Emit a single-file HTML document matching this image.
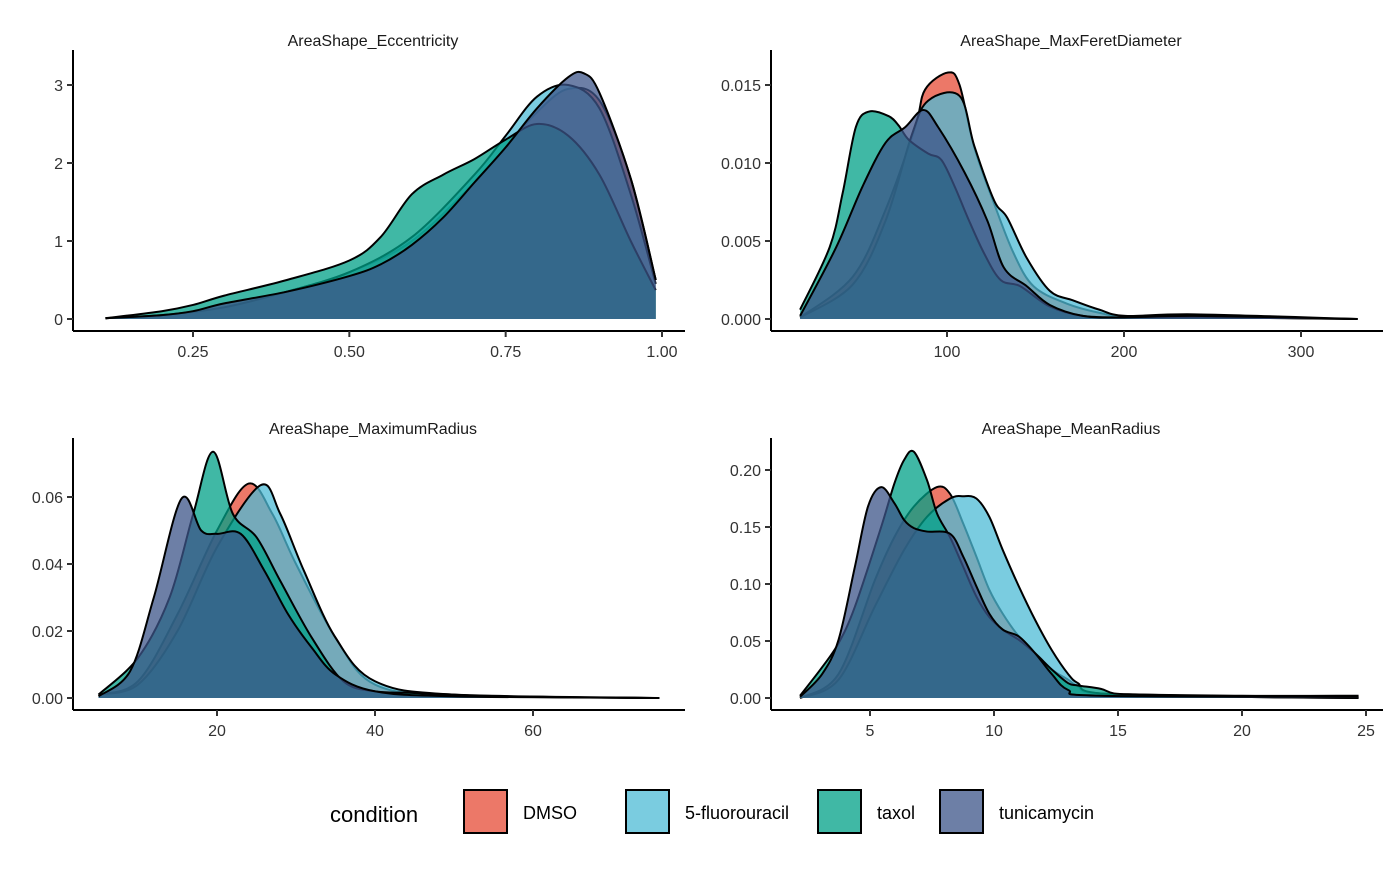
<!DOCTYPE html>
<html><head><meta charset="utf-8"><style>
body{margin:0;background:#fff;font-family:"Liberation Sans",Arial,sans-serif}
svg text{font-family:"Liberation Sans",Arial,sans-serif}
</style></head><body>
<svg id="c" width="1400" height="865" xmlns="http://www.w3.org/2000/svg"></svg>
<script>
const seriesNames=["DMSO","5-fluorouracil","taxol","tunicamycin"];
const colors=["#E64B35","#4DBBD5","#00A087","#3C5488"];
// Panel 1: AreaShape_Eccentricity
const eccX={DMSO:[0.11,0.2,0.3,0.4,0.5,0.6,0.7,0.75,0.8,0.85,0.9,0.95,0.99],"5-fluorouracil":[0.11,0.2,0.3,0.4,0.5,0.6,0.7,0.75,0.8,0.85,0.9,0.95,0.99],taxol:[0.11,0.2,0.25,0.3,0.4,0.5,0.55,0.6,0.65,0.7,0.75,0.8,0.85,0.9,0.95,0.99],tunicamycin:[0.11,0.2,0.25,0.3,0.4,0.5,0.55,0.6,0.65,0.7,0.75,0.8,0.85,0.875,0.9,0.95,0.99]};
const eccY={DMSO:[0.01,0.05,0.15,0.35,0.6,1.0,1.75,2.2,2.65,2.95,2.8,1.8,0.5],"5-fluorouracil":[0.01,0.05,0.15,0.35,0.6,1.05,1.85,2.35,2.85,3.0,2.7,1.6,0.45],taxol:[0.01,0.1,0.18,0.3,0.5,0.75,1.05,1.6,1.85,2.05,2.3,2.5,2.35,1.85,1.0,0.37],tunicamycin:[0.01,0.05,0.1,0.2,0.35,0.55,0.7,0.95,1.3,1.75,2.2,2.7,3.1,3.15,2.9,1.8,0.5]};
// Panel 2: AreaShape_MaxFeretDiameter
const ferX={DMSO:[17,46.7,65.3,82,87.6,100.6,107.1,115.4,126.6,137.7,148.9,167.4,186,204.6,260,332],"5-fluorouracil":[17,46.7,65.3,80.1,89.4,107.1,115.4,126.6,134,145.1,158.1,171.1,186,200.8,240,332],taxol:[17,33.7,41.1,48.5,56,67.1,72.7,78.3,89.4,96.8,104.3,111.7,121,130.3,141.4,158.1,176.7,200,250,332],tunicamycin:[17,37.4,52.3,65.3,76.4,86.6,95,109.9,122.8,132.1,145.1,158.1,176.7,200,240,332]};
const ferY={DMSO:[0.0001,0.0027,0.007,0.0123,0.0147,0.0158,0.015,0.011,0.0074,0.0042,0.0021,0.001,0.0004,0.0001,0.0001,0],"5-fluorouracil":[0.0001,0.0022,0.0063,0.0118,0.014,0.0143,0.0111,0.0076,0.0065,0.0039,0.0018,0.0012,0.0006,0.0002,0.0003,0],taxol:[0.0006,0.0046,0.0081,0.0123,0.0133,0.013,0.0124,0.0115,0.0106,0.0102,0.0085,0.0065,0.0042,0.0025,0.0021,0.0008,0.0002,0.0001,0.0001,0],tunicamycin:[0.0002,0.0046,0.0085,0.0113,0.0123,0.0134,0.0123,0.0094,0.0063,0.0033,0.0021,0.0009,0.0002,0.0001,0.0002,0]};
// Panel 3: AreaShape_MaximumRadius
const maxX={DMSO:[5,10,15,20,24,27,30,35,40,50,76],"5-fluorouracil":[5,10,15,20,25.5,28,31,35,40,50,76],taxol:[5,10,14,17,19.5,22,25,28,32,36,40,45,50,60,76],tunicamycin:[5,9,12,15.5,18,20,23,26,29,32,35,40,50,76]};
const maxY={DMSO:[0.001,0.005,0.025,0.05,0.064,0.055,0.04,0.018,0.004,0.001,0],"5-fluorouracil":[0.001,0.004,0.02,0.045,0.0635,0.055,0.038,0.018,0.005,0.001,0],taxol:[0.001,0.012,0.03,0.055,0.0735,0.055,0.048,0.035,0.018,0.005,0.002,0.0015,0.0008,0.0003,0],tunicamycin:[0.0005,0.008,0.03,0.0595,0.05,0.049,0.049,0.038,0.025,0.015,0.007,0.002,0.0005,0]};
// Panel 4: AreaShape_MeanRadius
const meanX={DMSO:[2.18,3.73,5.19,5.98,6.77,7.7,8.23,8.76,9.29,9.81,10.35,11,11.67,12.33,12.99,13.39,14.31,20,24.7],"5-fluorouracil":[2.18,3.73,5.19,6.38,7.3,8.23,8.76,9.29,9.81,10.35,11,11.67,12.33,12.99,13.39,14.31,20,24.7],taxol:[2.18,3.07,3.73,4.39,5.45,5.98,6.38,6.77,7.3,7.7,8.23,8.76,9.29,9.81,10.35,11,11.67,12.33,12.99,13.39,14.31,14.84,16,20,24.7],tunicamycin:[2.18,3.07,3.73,4.39,4.92,5.45,5.98,6.38,6.77,7.3,8.23,8.76,9.29,9.81,10.35,11,11.67,12.33,12.99,14.31,24.7]};
const meanY={DMSO:[0,0.021,0.103,0.141,0.168,0.185,0.179,0.153,0.124,0.095,0.074,0.054,0.039,0.025,0.016,0.01,0.004,0.002,0.002],"5-fluorouracil":[0,0.016,0.08,0.13,0.159,0.175,0.177,0.175,0.159,0.13,0.098,0.068,0.042,0.021,0.013,0.004,0.001,0],taxol:[0.002,0.027,0.048,0.08,0.15,0.188,0.209,0.216,0.191,0.162,0.141,0.115,0.089,0.071,0.06,0.051,0.039,0.025,0.013,0.011,0.008,0.004,0.003,0.001,0],tunicamycin:[0.001,0.021,0.051,0.115,0.168,0.185,0.171,0.156,0.149,0.146,0.144,0.124,0.098,0.074,0.06,0.054,0.039,0.021,0.007,0.002,0.001]};
const panels=[
 {title:"AreaShape_Eccentricity",xs:eccX,ys:eccY,ax:[0.25,193,1.0,662],ay:[0,319,3,85],ox:73,oy:331,w:612,top:50,xt:[0.25,0.5,0.75,1.0],xl:["0.25","0.50","0.75","1.00"],yt:[0,1,2,3],yl:["0","1","2","3"]},
 {title:"AreaShape_MaxFeretDiameter",xs:ferX,ys:ferY,ax:[100,947,300,1301],ay:[0,319,0.015,85],ox:771,oy:331,w:612,top:50,xt:[100,200,300],xl:["100","200","300"],yt:[0,0.005,0.01,0.015],yl:["0.000","0.005","0.010","0.015"]},
 {title:"AreaShape_MaximumRadius",xs:maxX,ys:maxY,ax:[20,217,60,533],ay:[0,698,0.06,497],ox:73,oy:710,w:612,top:438,xt:[20,40,60],xl:["20","40","60"],yt:[0,0.02,0.04,0.06],yl:["0.00","0.02","0.04","0.06"]},
 {title:"AreaShape_MeanRadius",xs:meanX,ys:meanY,ax:[5,870,25,1366],ay:[0,698,0.2,470],ox:771,oy:710,w:612,top:438,xt:[5,10,15,20,25],xl:["5","10","15","20","25"],yt:[0,0.05,0.1,0.15,0.2],yl:["0.00","0.05","0.10","0.15","0.20"]}
];
const svg=document.getElementById('c');const NS="http://www.w3.org/2000/svg";
function mk(t,a,p){const e=document.createElementNS(NS,t);for(const k in a)e.setAttribute(k,a[k]);(p||svg).appendChild(e);return e;}
function path(pts,base){let d="M"+pts[0][0]+","+pts[0][1];for(let i=0;i<pts.length-1;i++){const p0=pts[Math.max(0,i-1)],p1=pts[i],p2=pts[i+1],p3=pts[Math.min(pts.length-1,i+2)];
 const c1y=Math.min(base,p1[1]+(p2[1]-p0[1])/6),c2y=Math.min(base,p2[1]-(p3[1]-p1[1])/6);
 d+=" C"+(p1[0]+(p2[0]-p0[0])/6)+","+c1y+" "+(p2[0]-(p3[0]-p1[0])/6)+","+c2y+" "+p2[0]+","+p2[1];}return d;}
panels.forEach((P,pi)=>{
 const sx=v=>P.ax[1]+(v-P.ax[0])*(P.ax[3]-P.ax[1])/(P.ax[2]-P.ax[0]);
 const sy=v=>P.ay[1]+(v-P.ay[0])*(P.ay[3]-P.ay[1])/(P.ay[2]-P.ay[0]);
 const g=mk('g',{});
 const t=mk('text',{x:P.ox+P.w/2-6,y:P.top-4,'text-anchor':'middle','font-size':16,fill:'#1a1a1a'},g);t.textContent=P.title;
 
 const base=sy(0);
 seriesNames.forEach((s,si)=>{
  const pts=P.xs[s].map((x,i)=>[sx(x),sy(P.ys[s][i])]);
  const d=path(pts,base)+" L"+pts[pts.length-1][0]+","+base+" L"+pts[0][0]+","+base+" Z";
  const a=mk('path',{d:d,fill:colors[si],'fill-opacity':0.75,stroke:'none'},g);
  
  const l=mk('path',{d:path(pts,base),fill:'none',stroke:'#000','stroke-width':2},g);
  
 });
 mk('line',{x1:P.ox,y1:P.top,x2:P.ox,y2:P.oy,stroke:'#000','stroke-width':2},g);
 mk('line',{x1:P.ox,y1:P.oy,x2:P.ox+P.w,y2:P.oy,stroke:'#000','stroke-width':2},g);
 P.xt.forEach((v,i)=>{const x=sx(v);mk('line',{x1:x,y1:P.oy,x2:x,y2:P.oy+6,stroke:'#333','stroke-width':2},g);
  const tt=mk('text',{x:x,y:P.oy+26,'text-anchor':'middle','font-size':16,fill:'#333'},g);tt.textContent=P.xl[i];});
 P.yt.forEach((v,i)=>{const y=sy(v);mk('line',{x1:P.ox-6,y1:y,x2:P.ox,y2:y,stroke:'#333','stroke-width':2},g);
  const tt=mk('text',{x:P.ox-10,y:y+6,'text-anchor':'end','font-size':16,fill:'#333'},g);tt.textContent=P.yl[i];});
});
const lg=mk('g',{});
const lt=mk('text',{x:330,y:822,'font-size':22,fill:'#000'},lg);lt.textContent="condition";
const lx=[464,626,818,940];
seriesNames.forEach((s,i)=>{
 const k=mk('rect',{x:lx[i],y:790,width:43,height:43,fill:colors[i],'fill-opacity':0.75,stroke:'#000','stroke-width':2},lg);
 
 const tx=mk('text',{x:lx[i]+59,y:819,'font-size':18,fill:'#000'},lg);tx.textContent=s;
});
</script>
</body></html>
